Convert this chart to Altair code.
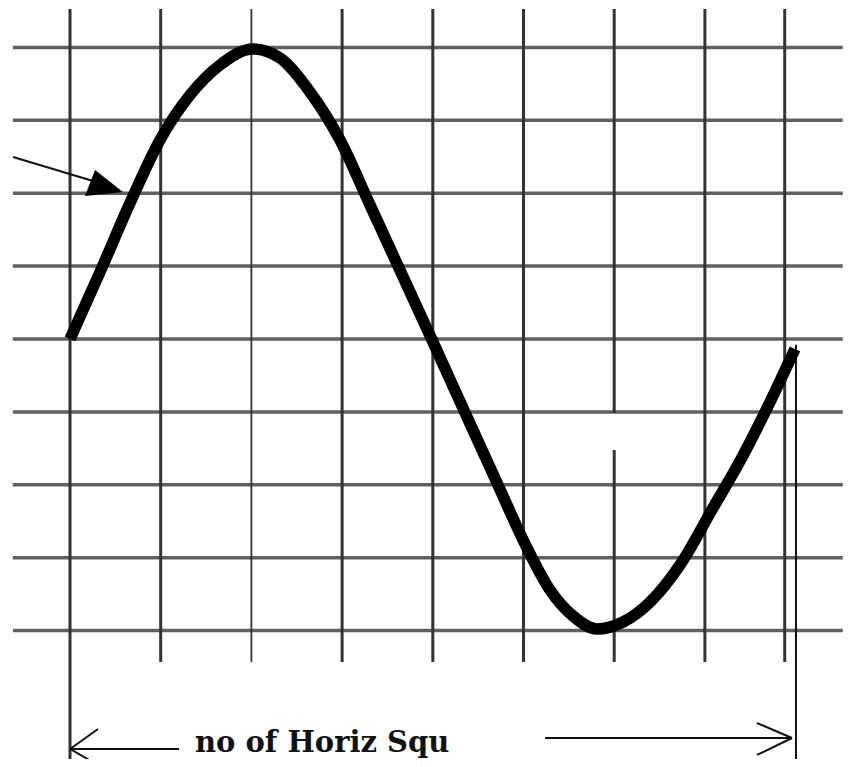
import altair as alt
import pandas as pd

# Units: one grid square = 1 in x and in y
grid_x = [0, 1, 2, 3, 4, 5, 6, 7, 7.88]
grid_y = [-4, -3, -2, -1, 0, 1, 2, 3, 4]

# traced sine wave (x, y) in squares
wave_x = [0.0, 0.331, 0.662, 0.992, 1.323, 1.654, 2.018, 2.315, 2.646, 2.977, 3.308, 4.002,
          4.708, 5.039, 5.292, 5.546, 5.810, 6.097, 6.395, 6.725, 7.089, 7.387, 7.718, 7.993]
wave_y = [0.0, 0.919, 1.866, 2.730, 3.347, 3.759, 3.978, 3.855, 3.388, 2.730, 1.838, -0.041,
          -1.975, -2.867, -3.443, -3.800, -3.978, -3.882, -3.608, -3.100, -2.318, -1.674, -0.864, -0.137]

label = "no of Horiz Squ"

XDOM = [-0.6836, 8.5226]
YDOM = [-5.7613, 4.5405]
xs = alt.Scale(domain=XDOM, nice=False, zero=False)
ys = alt.Scale(domain=YDOM, nice=False, zero=False)

# horizontal grid lines
h_df = pd.DataFrame({"x": [-0.63] * len(grid_y), "x2": [8.52] * len(grid_y), "y": grid_y})
# vertical grid segments
v_rows = []
for gx in grid_x:
    if gx == 0:
        v_rows.append({"x": gx, "y": 4.527, "y2": YDOM[0], "w": 3})
    elif gx == 6:
        v_rows.append({"x": gx, "y": 4.527, "y2": -1.015, "w": 3})
        v_rows.append({"x": gx, "y": -1.523, "y2": -4.431, "w": 3})
    elif gx == 2:
        v_rows.append({"x": gx, "y": 4.527, "y2": -4.431, "w": 1.8})
    else:
        v_rows.append({"x": gx, "y": 4.527, "y2": -4.431, "w": 3})
v_df = pd.DataFrame(v_rows)

# annotation lines
ann_df = pd.DataFrame([
    {"x": -0.628, "y": 2.497, "x2": 0.30, "y2": 2.15},      # pointer
    {"x": 0.0, "y": -5.624, "x2": 1.202, "y2": -5.624},     # bottom left arrow
    {"x": 0.0, "y": -5.624, "x2": 0.309, "y2": -5.350},
    {"x": 0.0, "y": -5.624, "x2": 0.309, "y2": -5.844},
    {"x": 5.237, "y": -5.473, "x2": 7.960, "y2": -5.473},   # bottom right arrow
    {"x": 7.574, "y": -5.267, "x2": 7.960, "y2": -5.473},
    {"x": 7.574, "y": -5.706, "x2": 7.960, "y2": -5.473},
    {"x": 8.004, "y": -0.08, "x2": 8.004, "y2": YDOM[0]},   # right extent line
])

tri_df = pd.DataFrame({"x": [0.165, 0.276, 0.584], "y": [1.962, 2.318, 2.016], "y2": [1.962, 1.977, 2.016]})

wave_df = pd.DataFrame({"x": wave_x, "y": wave_y, "i": list(range(len(wave_x)))})
text_df = pd.DataFrame({"x": [1.378], "y": [-5.665], "t": [label]})

X = lambda f="x": alt.X(f"{f}:Q", scale=xs, axis=None)
Y = lambda f="y": alt.Y(f"{f}:Q", scale=ys, axis=None)

hgrid = alt.Chart(h_df).mark_rule(color="#606060", strokeWidth=3.5).encode(
    x=X(), x2="x2:Q", y=Y())
vgrid = alt.Chart(v_df).mark_rule(color="#333333").encode(
    x=X(), y=Y(), y2="y2:Q",
    strokeWidth=alt.StrokeWidth("w:Q", scale=None, legend=None))
ann = alt.Chart(ann_df).mark_rule(color="#111111", strokeWidth=2).encode(
    x=X(), x2="x2:Q", y=Y(), y2="y2:Q")
tri = alt.Chart(tri_df).mark_area(color="#000000", opacity=1, interpolate="linear").encode(
    x=X(), y=Y(), y2="y2:Q")
wave = alt.Chart(wave_df).mark_line(color="#000000", strokeWidth=11.5, interpolate="monotone",
                                    strokeCap="butt").encode(
    x=X(), y=Y(), order="i:Q")
txt = alt.Chart(text_df).mark_text(font="DejaVu Serif", fontSize=29, fontWeight="bold",
                                   align="left", baseline="alphabetic", color="#111111").encode(
    x=X(), y=Y(), text="t:N")

chart = alt.layer(hgrid, vgrid, ann, tri, wave, txt).properties(
    width=835, height=751, padding=0,
    autosize=alt.AutoSizeParams(type="none"),
    background="white",
).configure_view(stroke=None)

chart.save("out.html", embed_options={"renderer": "svg", "actions": False})
